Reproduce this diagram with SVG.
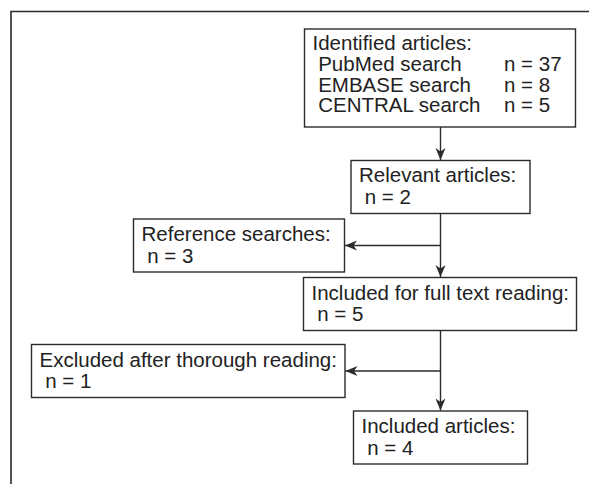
<svg xmlns="http://www.w3.org/2000/svg" width="589" height="484" viewBox="0 0 589 484">
<style>
.box{fill:#fff;stroke:#2b2b2b;stroke-width:1.4}
.frame{fill:none;stroke:#2b2b2b;stroke-width:1.6}
.con{fill:none;stroke:#2b2b2b;stroke-width:1.4}
text{font-family:"Liberation Sans",Arial,Helvetica,sans-serif;font-size:20.5px;fill:#222;white-space:pre}
</style>
<defs>
<marker id="ah" markerUnits="userSpaceOnUse" markerWidth="13" markerHeight="11" viewBox="0 0 13 11" refX="12" refY="5.5" orient="auto">
<path d="M0,0.5 L12,5.5 L0,10.5 L3.5,5.5 Z" fill="#2b2b2b"/>
</marker>
</defs>
<rect width="589" height="484" fill="#fff"/>
<path class="frame" d="M11,484 L11,11.5 L589,11.5"/>
<g id="connectors">
<line class="con" x1="440.5" y1="127" x2="440.5" y2="160" marker-end="url(#ah)"/>
<line class="con" x1="440.5" y1="213.5" x2="440.5" y2="277" marker-end="url(#ah)"/>
<line class="con" x1="440.5" y1="245.5" x2="345" y2="245.5" marker-end="url(#ah)"/>
<line class="con" x1="440.5" y1="330.5" x2="440.5" y2="410.5" marker-end="url(#ah)"/>
<line class="con" x1="440.5" y1="371" x2="345.5" y2="371" marker-end="url(#ah)"/>
</g>
<g id="identified">
<rect class="box" x="304.5" y="29" width="271" height="98"/>
<text x="312.5" y="50">Identified articles:</text>
<text x="312.5" y="70.7"> PubMed search</text>
<text x="312.5" y="91.5"> EMBASE search</text>
<text x="312.5" y="112.3"> CENTRAL search</text>
<text x="504" y="70.7">n = 37</text>
<text x="504" y="91.5">n = 8</text>
<text x="504" y="112.3">n = 5</text>
</g>
<g id="relevant">
<rect class="box" x="351" y="160.5" width="179" height="53"/>
<text x="359" y="182.3">Relevant articles:</text>
<text x="359" y="204"> n = 2</text>
</g>
<g id="reference">
<rect class="box" x="133.5" y="219" width="211" height="53"/>
<text x="141.5" y="241">Reference searches:</text>
<text x="141.5" y="262.5"> n = 3</text>
</g>
<g id="fulltext">
<rect class="box" x="303.5" y="277.5" width="273" height="53"/>
<text x="311.5" y="299.5">Included for full text reading:</text>
<text x="311.5" y="321"> n = 5</text>
</g>
<g id="excluded">
<rect class="box" x="31.5" y="344.5" width="313.5" height="53"/>
<text x="39.5" y="366.5">Excluded after thorough reading:</text>
<text x="39.5" y="388"> n = 1</text>
</g>
<g id="included">
<rect class="box" x="353.5" y="411" width="174" height="53"/>
<text x="361.5" y="433">Included articles:</text>
<text x="361.5" y="454.5"> n = 4</text>
</g>
</svg>
